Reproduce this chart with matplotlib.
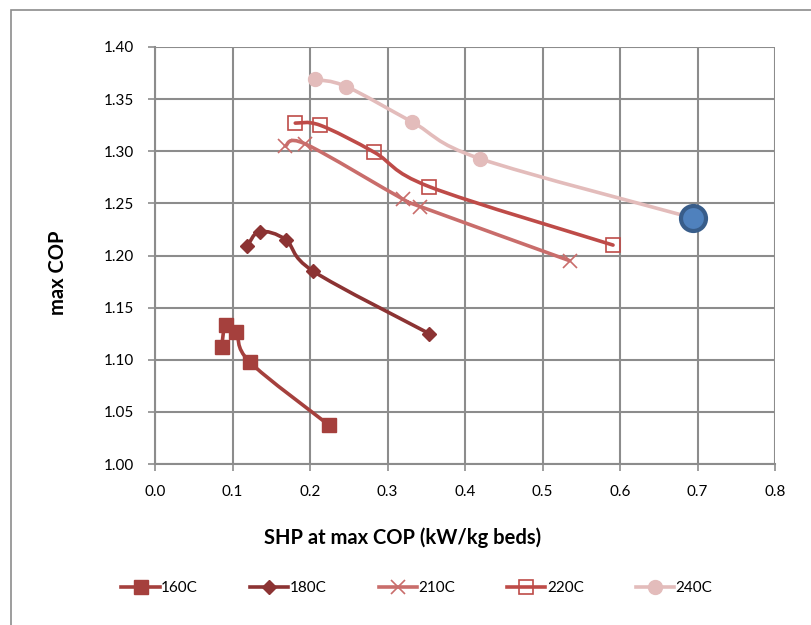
import matplotlib as mpl
mpl.use('Agg')
import numpy as np
import matplotlib.pyplot as plt
from matplotlib.path import Path
from matplotlib.patches import PathPatch, Rectangle
from matplotlib.lines import Line2D

plt.rcParams['font.family'] = ['Lato', 'DejaVu Sans']

# data
x_160 = [0.086, 0.091, 0.105, 0.122, 0.225]
y_160 = [1.112, 1.133, 1.127, 1.098, 1.037]
x_180 = [0.119, 0.135, 0.169, 0.204, 0.354]
y_180 = [1.209, 1.223, 1.215, 1.185, 1.125]
x_210 = [0.168, 0.194, 0.320, 0.342, 0.535]
y_210 = [1.305, 1.307, 1.254, 1.247, 1.195]
x_220 = [0.181, 0.213, 0.283, 0.354, 0.591]
y_220 = [1.327, 1.325, 1.299, 1.266, 1.210]
x_240 = [0.206, 0.247, 0.332, 0.419, 0.694]
y_240 = [1.369, 1.362, 1.328, 1.293, 1.236]
labels = ['160C', '180C', '210C', '220C', '240C']


def smooth_path(xs, ys):
    # Excel-like smoothed line: cubic Bezier segments (Catmull-Rom control points)
    p = np.column_stack([xs, ys])
    n = len(p)
    verts = [p[0]]
    codes = [Path.MOVETO]
    for i in range(n - 1):
        p0 = p[i - 1] if i > 0 else p[i]
        p3 = p[i + 2] if i + 2 < n else p[i + 1]
        c1 = p[i] + (p[i + 1] - p0) / 6
        c2 = p[i + 1] - (p3 - p[i]) / 6
        verts += [c1, c2, p[i + 1]]
        codes += [Path.CURVE4] * 3
    return Path(verts, codes)


fig = plt.figure(figsize=(8.11, 6.25), dpi=100)
ax = fig.add_axes([155 / 811, 1 - 464 / 625, 620 / 811, 417 / 625])

series = [
    (x_160, y_160, '#A5403D', dict(marker='s', ms=10.5, mfc='#A5403D', mec='#A5403D')),
    (x_180, y_180, '#8C3333', dict(marker='D', ms=7.5, mfc='#8C3333', mec='#8C3333')),
    (x_210, y_210, '#C96D6B', dict(marker='x', ms=10, mew=1.2, mec='#C96D6B')),
    (x_220, y_220, '#BE4B48', dict(marker='s', ms=9.5, mfc='none', mec='#BE4B48', mew=1.2)),
    (x_240, y_240, '#E3BCBB', dict(marker='o', ms=10, mfc='#E3BCBB', mec='#E3BCBB')),
]

handles = []
for (xs, ys, col, mk), lab in zip(series, labels):
    ax.add_patch(PathPatch(smooth_path(xs, ys), fill=False, ec=col, lw=2.6,
                           capstyle='round', zorder=3))
    ax.plot(xs, ys, ls='none', zorder=4, **mk)
    handles.append(Line2D([], [], color=col, lw=2.6, label=lab, **mk))

# highlighted last point of 240C
ax.plot(x_240[-1], y_240[-1], 'o', ms=18, mfc='#4F81BD', mec='#385D8A',
        mew=3, zorder=5)

ax.set_xlim(0, 0.8)
ax.set_ylim(1.0, 1.4)
ax.set_xticks(np.arange(0, 0.81, 0.1))
ax.set_yticks(np.arange(1.0, 1.401, 0.05))
ax.xaxis.set_major_formatter(mpl.ticker.FormatStrFormatter('%.1f'))
ax.yaxis.set_major_formatter(mpl.ticker.FormatStrFormatter('%.2f'))
ax.grid(True, color='#8C8C8C', lw=1.5)
ax.set_axisbelow(True)
for s in ['top', 'right']:
    ax.spines[s].set_visible(False)
for s in ['left', 'bottom']:
    ax.spines[s].set_color('#8C8C8C')
    ax.spines[s].set_linewidth(1.5)
ax.tick_params(direction='out', length=5, width=1.2, color='#8C8C8C',
               labelsize=11)
ax.tick_params(axis='x', pad=10)
ax.tick_params(axis='y', pad=10)

fig.text(403 / 811, 1 - 538 / 625, 'SHP at max COP (kW/kg beds)',
         fontsize=14.5, fontweight='bold', ha='center', va='center')
fig.text(58 / 811, 1 - 273 / 625, 'max COP', rotation=90,
         fontsize=14.5, fontweight='bold', ha='center', va='center')

fig.legend(handles=handles, loc='center', bbox_to_anchor=(0.514, 1 - 588 / 625),
           ncol=5, frameon=False, fontsize=11, handlelength=2.5,
           columnspacing=3.4, handletextpad=0.1, numpoints=1)

# outer chart frame
fig.patches.append(Rectangle((11 / 811, -0.1), 1.2, 1.1 - 10 / 625,
                             transform=fig.transFigure, fill=False,
                             ec='#8C8C8C', lw=1.2))

plt.savefig('out.png')
plt.close()
